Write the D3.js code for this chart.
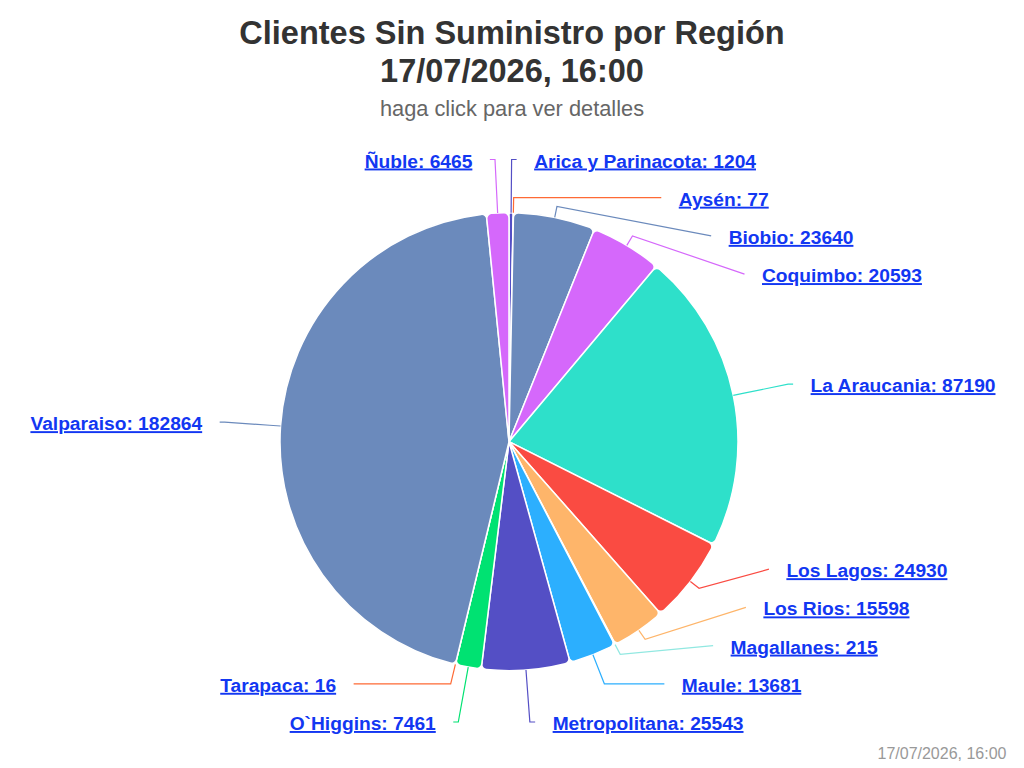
<!DOCTYPE html>
<html>

<head>
  <meta charset="utf-8" />
  <title>Clientes Sin Suministro por Región</title>
  <style>
    body {
      margin: 0;
      background: #fff;
    }

    svg text {
      font-family: "Liberation Sans", Arial, Helvetica, sans-serif;
    }

    .label {
      font-size: 19.2px;
      font-weight: bold;
      fill: #1237f2;
      text-decoration: underline;
    }
  </style>
</head>

<body>
  <svg id="svg"></svg>

  <script src="https://cdn.jsdelivr.net/npm/d3@7"></script>
  <script>
    const width = 1024
    const height = 768

    // data
    const regions = ['Arica y Parinacota', 'Aysén', 'Biobio', 'Coquimbo', 'La Araucania', 'Los Lagos',
      'Los Rios', 'Magallanes', 'Maule', 'Metropolitana', 'O`Higgins', 'Tarapaca', 'Valparaiso', 'Ñuble']
    const clientes = [1204, 77, 23640, 20593, 87190, 24930, 15598, 215, 13681, 25543, 7461, 16, 182864, 6465]
    const colors = ['#544fc5', '#fe6a35', '#6b8abc', '#d568fb', '#2ee0ca', '#fa4b42', '#feb56a',
      '#91e8e1', '#2caffe', '#544fc5', '#00e272', '#fe6a35', '#6b8abc', '#d568fb']
    const title = ['Clientes Sin Suministro por Región', '17/07/2026, 16:00']
    const subtitle = 'haga click para ver detalles'
    const credits = '17/07/2026, 16:00'

    // layout
    const cx = 509
    const cy = 441.7
    const r = 229
    const labelR = 285        // radius where labels sit
    const breakR = r + 11     // connector bend
    const padding = 5
    const textGap = 17.5
    const step = 38.2         // vertical slot per label
    const topY = 159.5
    const bottomY = 722

    const svg = d3.select('#svg')
      .attr('width', width)
      .attr('height', height)

    // titles
    svg.selectAll('text.title')
      .data(title)
      .join('text')
      .attr('class', 'title')
      .attr('x', width / 2)
      .attr('y', (d, i) => 44 + i * 37.5)
      .attr('text-anchor', 'middle')
      .style('font-size', '32.5px')
      .style('font-weight', 'bold')
      .style('fill', '#333')
      .text(d => d)

    svg.append('text')
      .attr('x', width / 2)
      .attr('y', 115.5)
      .attr('text-anchor', 'middle')
      .style('font-size', '21.8px')
      .style('fill', '#666')
      .text(subtitle)

    svg.append('text')
      .attr('x', 1006.5)
      .attr('y', 759)
      .attr('text-anchor', 'end')
      .style('font-size', '16px')
      .style('fill', '#999')
      .text(credits)

    const data = regions.map((name, i) => ({ name, value: clientes[i], color: colors[i] }))

    const pie = d3.pie()
      .sort(null)
      .value(d => d.value)
      .startAngle(0)
      .endAngle(Math.PI * 2)

    const arcs = pie(data)

    const arc = d3.arc()
      .innerRadius(0)
      .outerRadius(r)
      .cornerRadius(5)

    const g = svg.append('g')
      .attr('transform', `translate(${cx},${cy})`)

    g.selectAll('path.slice')
      .data(arcs)
      .join('path')
      .attr('class', 'slice')
      .attr('d', arc)
      .attr('fill', d => d.data.color)
      .attr('stroke', '#fff')
      .attr('stroke-width', 1.5)
      .attr('stroke-linejoin', 'round')

    // label placement, roughly like highcharts does it
    const labels = arcs.map(d => {
      const a = (d.startAngle + d.endAngle) / 2
      return {
        d,
        a,
        left: a > Math.PI,
        natY: cy - Math.cos(a) * labelR
      }
    })

    function distribute(items) {
      items.sort((p, q) => p.natY - q.natY)
      let groups = items.map(d => ({ items: [d] }))
      const place = grp => {
        const n = grp.items.length
        let top = d3.mean(grp.items, d => d.natY) - (n - 1) * step / 2
        grp.top = Math.max(topY, Math.min(bottomY - (n - 1) * step, top))
      }
      let merged = true
      while (merged) {
        merged = false
        groups.forEach(place)
        for (let i = 0; i < groups.length - 1; i++) {
          const g0 = groups[i], g1 = groups[i + 1]
          if (g1.top < g0.top + g0.items.length * step - 1e-6) {
            g0.items = g0.items.concat(g1.items)
            groups.splice(i + 1, 1)
            merged = true
            break
          }
        }
      }
      groups.forEach(grp => grp.items.forEach((d, i) => {
        d.y = grp.top + i * step
        d.atLimit = d.y <= topY + 0.5 || d.y >= bottomY - 0.5
      }))
    }

    distribute(labels.filter(d => !d.left))
    distribute(labels.filter(d => d.left))

    function getX(y, left) {
      const ang = Math.asin(Math.max(-1, Math.min(1, (y - cy) / labelR)))
      const s = left ? -1 : 1
      return cx + s * Math.cos(ang) * labelR + s * padding
    }

    labels.forEach(l => {
      l.x = getX(l.atLimit ? l.natY : l.y, l.left)
      const sa = Math.sin(l.a), ca = Math.cos(l.a)
      const breakAt = [cx + sa * breakR, cy - ca * breakR]
      const touch = [cx + sa * r, cy - ca * r]
      const crookX = cx + (cy - l.y) * Math.tan(l.a)
      const path = d3.path()
      path.moveTo(l.x, l.y)
      const ok = l.left ? (crookX >= l.x && crookX <= breakAt[0]) : (crookX <= l.x && crookX >= breakAt[0])
      if (ok) path.lineTo(crookX, l.y)
      path.lineTo(breakAt[0], breakAt[1])
      path.lineTo(touch[0], touch[1])
      l.path = path.toString()
    })

    svg.selectAll('path.connector')
      .data(labels)
      .join('path')
      .attr('class', 'connector')
      .attr('d', d => d.path)
      .attr('fill', 'none')
      .attr('stroke', d => d.d.data.color)
      .attr('stroke-width', 1.2)

    svg.selectAll('text.label')
      .data(labels)
      .join('text')
      .attr('class', 'label')
      .attr('x', d => d.left ? d.x - textGap : d.x + textGap)
      .attr('y', d => d.y + 8)
      .attr('text-anchor', d => d.left ? 'end' : 'start')
      .text(d => `${d.d.data.name}: ${d.d.data.value}`)
  </script>

</body>

</html>
